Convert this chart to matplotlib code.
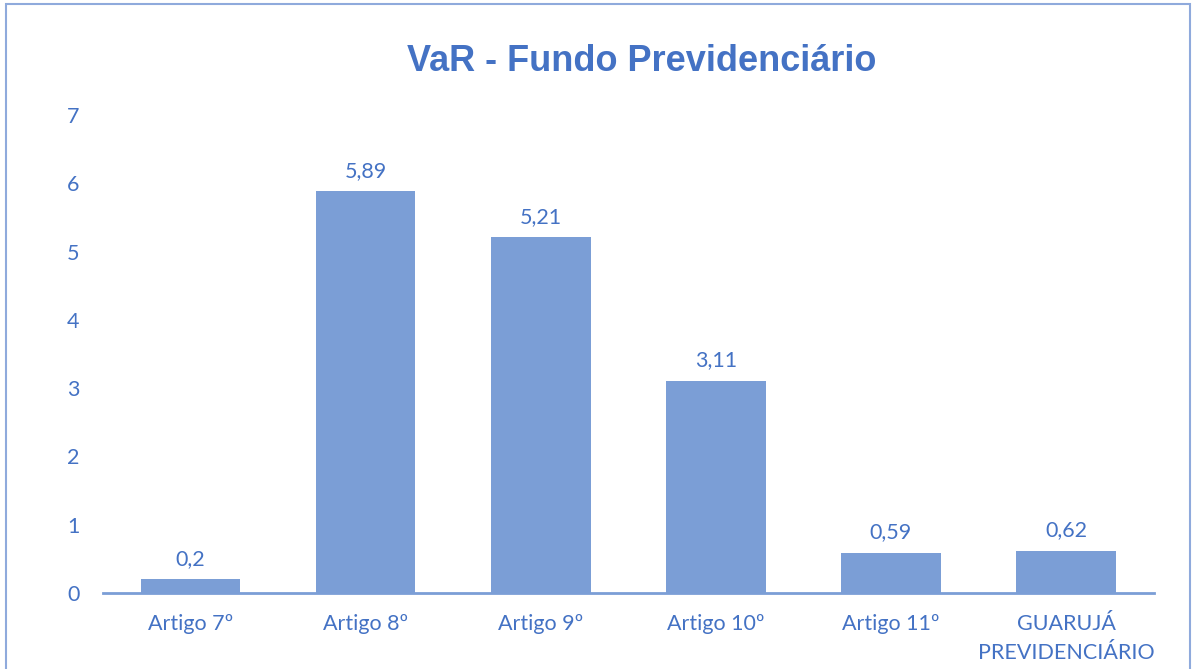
import numpy as np
import matplotlib.pyplot as plt
from matplotlib.patches import Rectangle

# Data
categorias = ["Artigo 7º", "Artigo 8º", "Artigo 9º", "Artigo 10º", "Artigo 11º", "GUARUJÁ\nPREVIDENCIÁRIO"]
valores = [0.2, 5.89, 5.21, 3.11, 0.59, 0.62]
rotulos = ["0,2", "5,89", "5,21", "3,11", "0,59", "0,62"]

azul_barra = "#7B9ED6"
azul_texto = "#4472C4"

plt.rcParams['font.family'] = ['Lato', 'DejaVu Sans']

fig = plt.figure(figsize=(11.93, 6.69), dpi=100)
ax = fig.add_axes([0.0863, 0.1136, 0.8806, 0.7144])

x = np.arange(len(categorias))
ax.bar(x, valores, width=0.57, color=azul_barra)
for xi, v, r in zip(x, valores, rotulos):
    ax.text(xi, v + 0.15, r, ha="center", va="bottom", fontsize=15.5, color=azul_texto)

ax.set_xlim(-0.5, len(categorias) - 0.5)
ax.set_ylim(0, 7)
ax.set_yticks(range(8))
ax.set_xticks(x)
ax.set_xticklabels(categorias, fontsize=15.5, color=azul_texto, linespacing=1.55)
ax.tick_params(axis="y", labelsize=15.5, labelcolor=azul_texto, length=0, pad=17)
ax.tick_params(axis="x", length=0, pad=15)
for s in ["top", "right", "left"]:
    ax.spines[s].set_visible(False)
ax.spines["bottom"].set_color(azul_barra)
ax.spines["bottom"].set_linewidth(2)

fig.text(0.538, 0.908, "VaR - Fundo Previdenciário", ha="center", va="center",
         fontsize=26, fontweight="bold", color=azul_texto, family="Liberation Sans")

# moldura em volta do gráfico
fig.patches.append(Rectangle((6 / 1193, -0.02), 1184 / 1193, 1.02 - 4 / 669,
                             transform=fig.transFigure, fill=False,
                             edgecolor="#8FAADC", linewidth=1.5))

fig.savefig("out.png", dpi=100)
